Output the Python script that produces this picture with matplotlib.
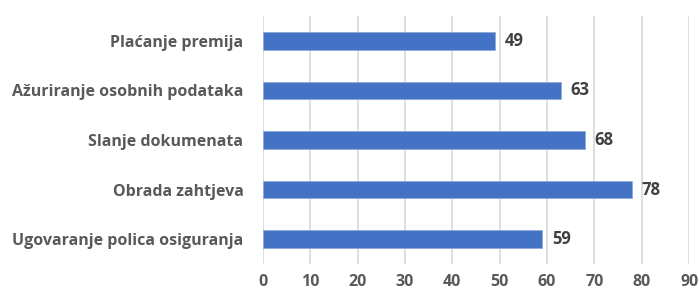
import matplotlib.pyplot as plt

categories = ['Ugovaranje polica osiguranja', 'Obrada zahtjeva', 'Slanje dokumenata',
              'Ažuriranje osobnih podataka', 'Plaćanje premija']
values = [59, 78, 68, 63, 49]
x_ticks = [0, 10, 20, 30, 40, 50, 60, 70, 80, 90]

plt.rcParams['font.family'] = ['Open Sans', 'DejaVu Sans']

fig = plt.figure(figsize=(6.99, 2.88), dpi=100)
ax = fig.add_axes([0.376, 0.084, 0.610, 0.860])

bars = ax.barh(categories, values, height=0.35, color='#4472C4', edgecolor='#8FAADC', linewidth=0.6, zorder=3)
for b, v in zip(bars, values):
    ax.text(v + 2.0, b.get_y() + b.get_height() / 2, str(v), va='center', ha='left',
            fontsize=12, fontweight='bold', color='#404040')

ax.set_xlim(0, 90)
ax.set_ylim(-0.5, 4.5)
ax.set_xticks(x_ticks)
ax.grid(axis='x', color='#D9D9D9', linewidth=1.2, zorder=0)
for s in ax.spines.values():
    s.set_visible(False)
ax.tick_params(length=0)
ax.tick_params(axis='y', pad=14)
ax.tick_params(axis='x', pad=7)
for lab in ax.get_yticklabels() + ax.get_xticklabels():
    lab.set_fontweight('bold')
    lab.set_color('#595959')
    lab.set_fontsize(11.5)

fig.savefig('out.png', dpi=100)
